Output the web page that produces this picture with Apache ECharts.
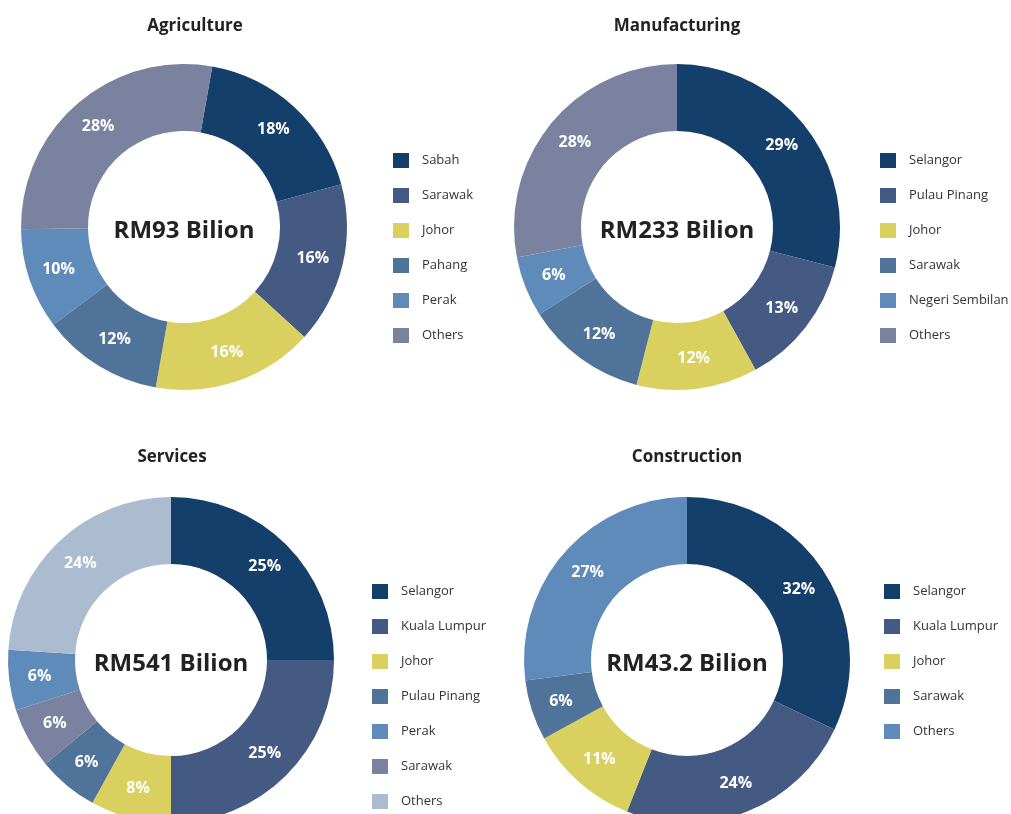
<!DOCTYPE html>
<html>
<head>
<meta charset="utf-8">
<script src="https://cdn.jsdelivr.net/npm/echarts@6/dist/echarts.min.js"></script>
<style>
html,body{margin:0;padding:0;background:#fff;}
#chart{width:1011px;height:814px;}
</style>
</head>
<body>
<div id="chart"></div>
<script>
const palette = ['#143f6b', '#445a82', '#d9d060', '#4f7399', '#5e8bba', '#7a82a0', '#abbcd0'];

const titles = ['Agriculture', 'Manufacturing', 'Services', 'Construction'];
const totals = ['RM93 Bilion', 'RM233 Bilion', 'RM541 Bilion', 'RM43.2 Bilion'];

// slice order (clockwise) and values
const agriNames = ['Sabah', 'Sarawak', 'Johor', 'Pahang', 'Perak', 'Others'];
const agriValues = [18, 16, 16, 12, 10, 28];
const agriLegend = ['Sabah', 'Sarawak', 'Johor', 'Pahang', 'Perak', 'Others'];

const manuNames = ['Selangor', 'Pulau Pinang', 'Johor', 'Sarawak', 'Negeri Sembilan', 'Others'];
const manuValues = [29, 13, 12, 12, 6, 28];
const manuLegend = ['Selangor', 'Pulau Pinang', 'Johor', 'Sarawak', 'Negeri Sembilan', 'Others'];

const servNames = ['Selangor', 'Kuala Lumpur', 'Johor', 'Pulau Pinang', 'Sarawak', 'Perak', 'Others'];
const servValues = [25, 25, 8, 6, 6, 6, 24];
const servLegend = ['Selangor', 'Kuala Lumpur', 'Johor', 'Pulau Pinang', 'Perak', 'Sarawak', 'Others'];

const consNames = ['Selangor', 'Kuala Lumpur', 'Johor', 'Sarawak', 'Others'];
const consValues = [32, 24, 11, 6, 27];
const consLegend = ['Selangor', 'Kuala Lumpur', 'Johor', 'Sarawak', 'Others'];

const FONT = "'Open Sans', 'Noto Sans', sans-serif";

const panels = [
  { names: agriNames, values: agriValues, legendNames: agriLegend, center: [184, 227], startAngle: 80, titleX: 195, titleY: 26, legendX: 393, legendY: 153 },
  { names: manuNames, values: manuValues, legendNames: manuLegend, center: [677, 227], startAngle: 90, titleX: 677, titleY: 26, legendX: 880, legendY: 153 },
  { names: servNames, values: servValues, legendNames: servLegend, center: [171, 660], startAngle: 90, titleX: 172, titleY: 457, legendX: 372, legendY: 584 },
  { names: consNames, values: consValues, legendNames: consLegend, center: [687, 660], startAngle: 90, titleX: 687, titleY: 457, legendX: 884, legendY: 584 }
];

const title = [];
const legend = [];
const series = [];

panels.forEach((p, i) => {
  title.push({
    text: titles[i], left: p.titleX, top: p.titleY, padding: 0,
    textAlign: 'center', textVerticalAlign: 'middle',
    textStyle: { fontFamily: FONT, fontSize: 17, fontWeight: 'bold', color: '#222' }
  });
  title.push({
    text: totals[i], left: p.center[0], top: p.center[1] + 4, padding: 0,
    textAlign: 'center', textVerticalAlign: 'middle',
    textStyle: { fontFamily: FONT, fontSize: 24, fontWeight: 'bold', color: '#222' }
  });
  legend.push({
    orient: 'vertical', left: p.legendX, top: p.legendY, padding: 0,
    itemWidth: 16, itemHeight: 15, itemGap: 20, icon: 'rect',
    selectedMode: false,
    textStyle: { fontFamily: FONT, fontSize: 13, color: '#333', padding: [0, 0, 0, 8] },
    data: p.legendNames.map((n, k) => ({ name: n, itemStyle: { color: palette[k] } }))
  });
  series.push({
    type: 'pie',
    center: p.center,
    radius: [96, 163],
    startAngle: p.startAngle,
    clockwise: true,
    avoidLabelOverlap: false,
    label: {
      show: true, position: 'inside', formatter: '{c}%',
      fontFamily: FONT, fontSize: 16, fontWeight: 'bold', color: '#fff'
    },
    labelLine: { show: false },
    emphasis: { disabled: true },
    data: p.names.map((n, k) => ({
      name: n, value: p.values[k],
      itemStyle: { color: palette[p.legendNames.indexOf(n)], borderWidth: 0 }
    }))
  });
});

const chart = echarts.init(document.getElementById('chart'), null, { renderer: 'canvas' });
chart.setOption({
  animation: false,
  backgroundColor: '#fff',
  title: title,
  legend: legend,
  series: series
});
</script>
</body>
</html>
